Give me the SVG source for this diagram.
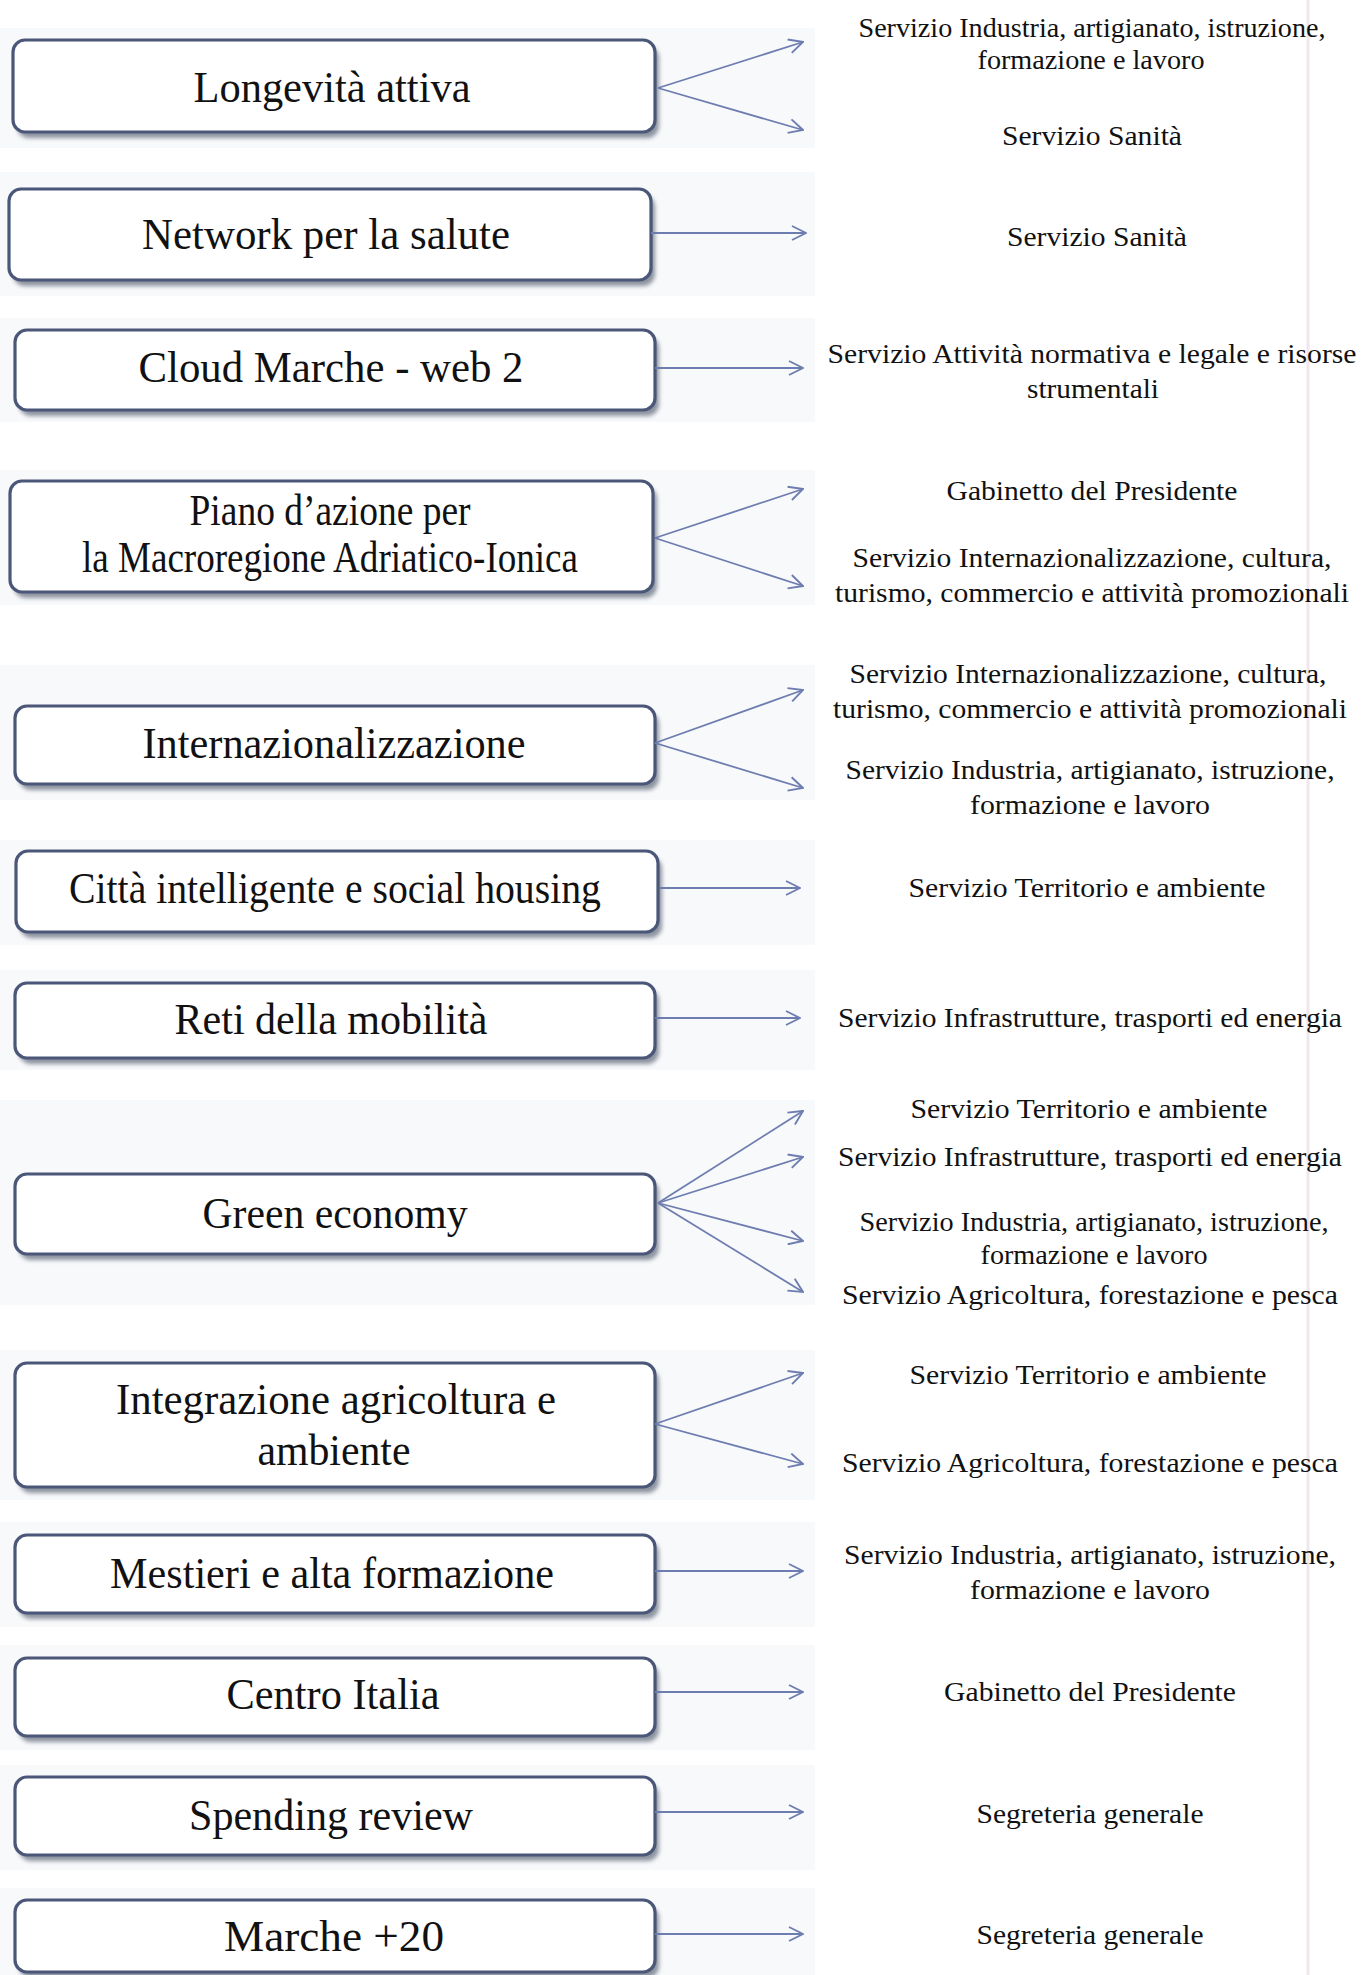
<svg xmlns="http://www.w3.org/2000/svg" width="1362" height="1975" viewBox="0 0 1362 1975">
<style>
.box{fill:#ffffff;stroke:#4a5778;stroke-width:3.2}
.shadow{fill:#5f6778;opacity:0.7}
.band{fill:#f8f9fb}
.lbl{font-family:"Liberation Serif","Times New Roman",serif;font-size:44px;fill:#111;text-anchor:middle}
.svc{font-family:"Liberation Serif","Times New Roman",serif;font-size:27px;fill:#111;text-anchor:middle}
.conn line{stroke:#6e7db0;stroke-width:1.8;fill:none;marker-end:url(#arr)}
</style>
<defs>
<marker id="arr" viewBox="0 0 16 16" refX="15" refY="8" markerWidth="16" markerHeight="16" markerUnits="userSpaceOnUse" orient="auto">
<path d="M1,1 L15,8 L1,15" fill="none" stroke="#6e7db0" stroke-width="1.9"/>
</marker>
<filter id="blur" x="-5%" y="-20%" width="110%" height="140%"><feGaussianBlur stdDeviation="2.2"/></filter>
</defs>
<rect width="1362" height="1975" fill="#ffffff"/>
<line x1="1308" y1="0" x2="1308" y2="1975" stroke="#f0e6ee" stroke-width="3"/>
<g id="backgrounds">
<rect class="band" x="0" y="28" width="815" height="120"/>
<rect class="band" x="0" y="172" width="815" height="124"/>
<rect class="band" x="0" y="318" width="815" height="104"/>
<rect class="band" x="0" y="470" width="815" height="135"/>
<rect class="band" x="0" y="665" width="815" height="135"/>
<rect class="band" x="0" y="840" width="815" height="105"/>
<rect class="band" x="0" y="970" width="815" height="100"/>
<rect class="band" x="0" y="1100" width="815" height="205"/>
<rect class="band" x="0" y="1350" width="815" height="150"/>
<rect class="band" x="0" y="1522" width="815" height="105"/>
<rect class="band" x="0" y="1645" width="815" height="105"/>
<rect class="band" x="0" y="1765" width="815" height="105"/>
<rect class="band" x="0" y="1888" width="815" height="87"/>
</g>
<g id="n1"><rect class="shadow" x="17" y="46" width="642" height="92" rx="12" filter="url(#blur)"/><rect class="box" x="13" y="40" width="642" height="92" rx="12"/><text class="lbl" x="332" y="102" textLength="277" lengthAdjust="spacingAndGlyphs">Longevità attiva</text></g>
<g id="n2"><rect class="shadow" x="13" y="195" width="642" height="91" rx="12" filter="url(#blur)"/><rect class="box" x="9" y="189" width="642" height="91" rx="12"/><text class="lbl" x="326" y="249" textLength="368" lengthAdjust="spacingAndGlyphs">Network per la salute</text></g>
<g id="n3"><rect class="shadow" x="19" y="336" width="640" height="80" rx="12" filter="url(#blur)"/><rect class="box" x="15" y="330" width="640" height="80" rx="12"/><text class="lbl" x="331" y="382" textLength="385" lengthAdjust="spacingAndGlyphs">Cloud Marche - web 2</text></g>
<g id="n4"><rect class="shadow" x="14" y="487" width="643" height="111" rx="12" filter="url(#blur)"/><rect class="box" x="10" y="481" width="643" height="111" rx="12"/><text class="lbl" x="330" y="525" font-size="38" textLength="281" lengthAdjust="spacingAndGlyphs">Piano d’azione per</text><text class="lbl" x="330" y="572" font-size="38" textLength="496" lengthAdjust="spacingAndGlyphs">la Macroregione Adriatico-Ionica</text></g>
<g id="n5"><rect class="shadow" x="19" y="712" width="640" height="78" rx="12" filter="url(#blur)"/><rect class="box" x="15" y="706" width="640" height="78" rx="12"/><text class="lbl" x="334" y="758" textLength="383" lengthAdjust="spacingAndGlyphs">Internazionalizzazione</text></g>
<g id="n6"><rect class="shadow" x="20" y="857" width="642" height="81" rx="12" filter="url(#blur)"/><rect class="box" x="16" y="851" width="642" height="81" rx="12"/><text class="lbl" x="335" y="903" textLength="532" lengthAdjust="spacingAndGlyphs">Città intelligente e social housing</text></g>
<g id="n7"><rect class="shadow" x="19" y="989" width="640" height="75" rx="12" filter="url(#blur)"/><rect class="box" x="15" y="983" width="640" height="75" rx="12"/><text class="lbl" x="331" y="1034" textLength="313" lengthAdjust="spacingAndGlyphs">Reti della mobilità</text></g>
<g id="n8"><rect class="shadow" x="19" y="1180" width="640" height="80" rx="12" filter="url(#blur)"/><rect class="box" x="15" y="1174" width="640" height="80" rx="12"/><text class="lbl" x="335" y="1228" textLength="265" lengthAdjust="spacingAndGlyphs">Green economy</text></g>
<g id="n9"><rect class="shadow" x="19" y="1369" width="640" height="124" rx="12" filter="url(#blur)"/><rect class="box" x="15" y="1363" width="640" height="124" rx="12"/><text class="lbl" x="336" y="1414" textLength="440" lengthAdjust="spacingAndGlyphs">Integrazione agricoltura e</text><text class="lbl" x="334" y="1465" textLength="153" lengthAdjust="spacingAndGlyphs">ambiente</text></g>
<g id="n10"><rect class="shadow" x="19" y="1541" width="640" height="78" rx="12" filter="url(#blur)"/><rect class="box" x="15" y="1535" width="640" height="78" rx="12"/><text class="lbl" x="332" y="1588" textLength="444" lengthAdjust="spacingAndGlyphs">Mestieri e alta formazione</text></g>
<g id="n11"><rect class="shadow" x="19" y="1664" width="640" height="78" rx="12" filter="url(#blur)"/><rect class="box" x="15" y="1658" width="640" height="78" rx="12"/><text class="lbl" x="333" y="1709" textLength="213" lengthAdjust="spacingAndGlyphs">Centro Italia</text></g>
<g id="n12"><rect class="shadow" x="19" y="1783" width="640" height="78" rx="12" filter="url(#blur)"/><rect class="box" x="15" y="1777" width="640" height="78" rx="12"/><text class="lbl" x="331" y="1830" textLength="284" lengthAdjust="spacingAndGlyphs">Spending review</text></g>
<g id="n13"><rect class="shadow" x="19" y="1906" width="640" height="72" rx="12" filter="url(#blur)"/><rect class="box" x="15" y="1900" width="640" height="72" rx="12"/><text class="lbl" x="334" y="1951" textLength="220" lengthAdjust="spacingAndGlyphs">Marche +20</text></g>
<g id="connectors" class="conn">
<line x1="658" y1="88" x2="803" y2="42"/>
<line x1="658" y1="88" x2="803" y2="130"/>
<line x1="651" y1="233" x2="806" y2="233"/>
<line x1="655" y1="368" x2="803" y2="368"/>
<line x1="655" y1="538" x2="803" y2="489"/>
<line x1="655" y1="538" x2="803" y2="586"/>
<line x1="655" y1="743" x2="803" y2="690"/>
<line x1="655" y1="743" x2="803" y2="788"/>
<line x1="660" y1="888" x2="800" y2="888"/>
<line x1="655" y1="1018" x2="800" y2="1018"/>
<line x1="658" y1="1203" x2="803" y2="1111"/>
<line x1="658" y1="1203" x2="803" y2="1157"/>
<line x1="658" y1="1203" x2="803" y2="1241"/>
<line x1="658" y1="1203" x2="803" y2="1292"/>
<line x1="655" y1="1424" x2="803" y2="1373"/>
<line x1="655" y1="1424" x2="803" y2="1464"/>
<line x1="655" y1="1571" x2="803" y2="1571"/>
<line x1="655" y1="1692" x2="803" y2="1692"/>
<line x1="655" y1="1812" x2="803" y2="1812"/>
<line x1="655" y1="1934" x2="803" y2="1934"/>
</g>
<g id="services">
<text class="svc" x="1092" y="37" textLength="467" lengthAdjust="spacingAndGlyphs">Servizio Industria, artigianato, istruzione,</text>
<text class="svc" x="1091" y="69" textLength="227" lengthAdjust="spacingAndGlyphs">formazione e lavoro</text>
<text class="svc" x="1092" y="145" textLength="180" lengthAdjust="spacingAndGlyphs">Servizio Sanità</text>
<text class="svc" x="1097" y="246" textLength="180" lengthAdjust="spacingAndGlyphs">Servizio Sanità</text>
<text class="svc" x="1092" y="363" textLength="529" lengthAdjust="spacingAndGlyphs">Servizio Attività normativa e legale e risorse</text>
<text class="svc" x="1093" y="398" textLength="132" lengthAdjust="spacingAndGlyphs">strumentali</text>
<text class="svc" x="1092" y="500" textLength="291" lengthAdjust="spacingAndGlyphs">Gabinetto del Presidente</text>
<text class="svc" x="1092" y="567" textLength="479" lengthAdjust="spacingAndGlyphs">Servizio Internazionalizzazione, cultura,</text>
<text class="svc" x="1092" y="602" textLength="514" lengthAdjust="spacingAndGlyphs">turismo, commercio e attività promozionali</text>
<text class="svc" x="1088" y="683" textLength="477" lengthAdjust="spacingAndGlyphs">Servizio Internazionalizzazione, cultura,</text>
<text class="svc" x="1090" y="718" textLength="514" lengthAdjust="spacingAndGlyphs">turismo, commercio e attività promozionali</text>
<text class="svc" x="1090" y="779" textLength="489" lengthAdjust="spacingAndGlyphs">Servizio Industria, artigianato, istruzione,</text>
<text class="svc" x="1090" y="814" textLength="240" lengthAdjust="spacingAndGlyphs">formazione e lavoro</text>
<text class="svc" x="1087" y="897" textLength="357" lengthAdjust="spacingAndGlyphs">Servizio Territorio e ambiente</text>
<text class="svc" x="1090" y="1027" textLength="504" lengthAdjust="spacingAndGlyphs">Servizio Infrastrutture, trasporti ed energia</text>
<text class="svc" x="1089" y="1118" textLength="357" lengthAdjust="spacingAndGlyphs">Servizio Territorio e ambiente</text>
<text class="svc" x="1090" y="1166" textLength="504" lengthAdjust="spacingAndGlyphs">Servizio Infrastrutture, trasporti ed energia</text>
<text class="svc" x="1094" y="1231" textLength="469" lengthAdjust="spacingAndGlyphs">Servizio Industria, artigianato, istruzione,</text>
<text class="svc" x="1094" y="1264" textLength="227" lengthAdjust="spacingAndGlyphs">formazione e lavoro</text>
<text class="svc" x="1090" y="1304" textLength="496" lengthAdjust="spacingAndGlyphs">Servizio Agricoltura, forestazione e pesca</text>
<text class="svc" x="1088" y="1384" textLength="357" lengthAdjust="spacingAndGlyphs">Servizio Territorio e ambiente</text>
<text class="svc" x="1090" y="1472" textLength="496" lengthAdjust="spacingAndGlyphs">Servizio Agricoltura, forestazione e pesca</text>
<text class="svc" x="1090" y="1564" textLength="492" lengthAdjust="spacingAndGlyphs">Servizio Industria, artigianato, istruzione,</text>
<text class="svc" x="1090" y="1599" textLength="240" lengthAdjust="spacingAndGlyphs">formazione e lavoro</text>
<text class="svc" x="1090" y="1701" textLength="292" lengthAdjust="spacingAndGlyphs">Gabinetto del Presidente</text>
<text class="svc" x="1090" y="1823" textLength="227" lengthAdjust="spacingAndGlyphs">Segreteria generale</text>
<text class="svc" x="1090" y="1944" textLength="227" lengthAdjust="spacingAndGlyphs">Segreteria generale</text>
</g>
</svg>
